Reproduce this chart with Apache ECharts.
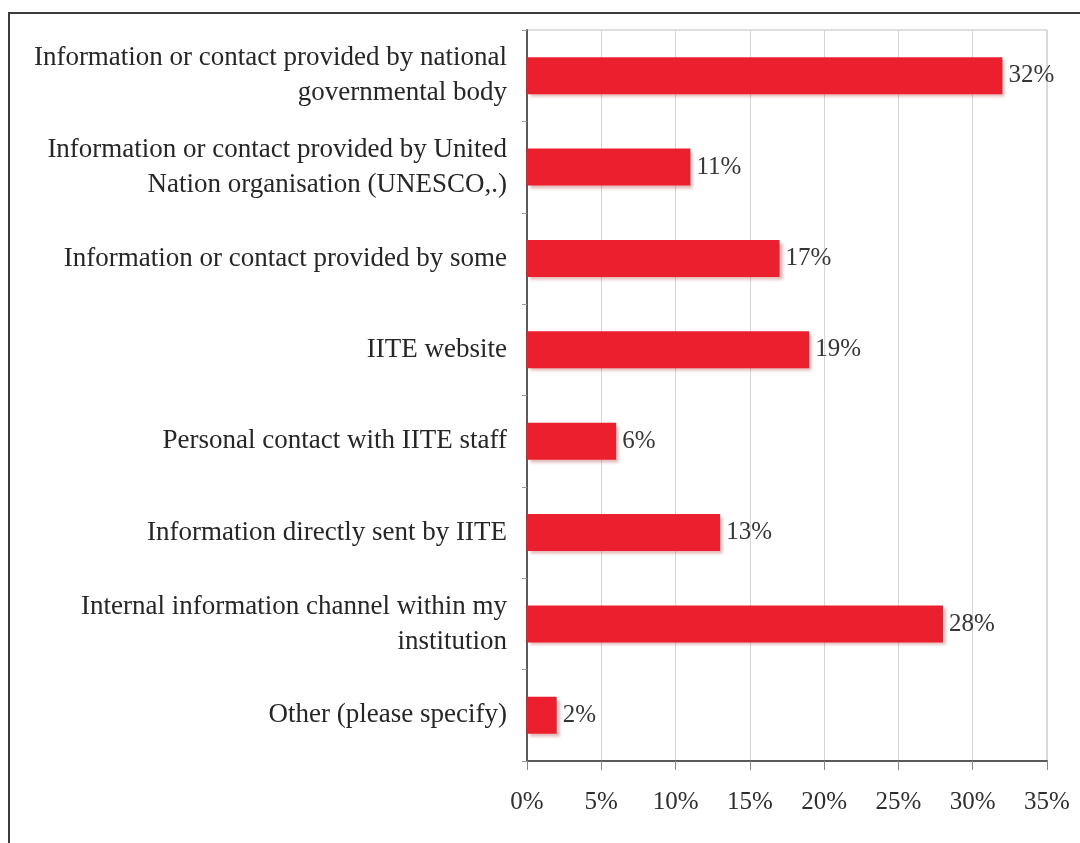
<!DOCTYPE html>
<html>
<head>
<meta charset="utf-8">
<script src="https://cdn.jsdelivr.net/npm/echarts@6/dist/echarts.min.js"></script>
<style>
  html, body { margin: 0; padding: 0; background: #fff; }
  #chart { width: 1080px; height: 843px; }
  #frame { position: absolute; left: 8px; top: 12px; width: 1100px; height: 900px;
           border-left: 2px solid #3c3c3c; border-top: 2px solid #3c3c3c; pointer-events: none; }
</style>
</head>
<body>
<div id="chart"></div>
<div id="frame"></div>
<script>
const categories = [
  "Information or contact provided by national\ngovernmental body",
  "Information or contact provided by United\nNation organisation (UNESCO,.)",
  "Information or contact provided by some",
  "IITE website",
  "Personal contact with IITE staff",
  "Information directly sent by IITE",
  "Internal information channel within my\ninstitution",
  "Other (please specify)"
];
const values = [32, 11, 17, 19, 6, 13, 28, 2];
const xTicks = [0, 5, 10, 15, 20, 25, 30, 35];

const chart = echarts.init(document.getElementById('chart'));
const fontFamily = '"Liberation Serif", "Times New Roman", serif';
chart.setOption({
  animation: false,
  backgroundColor: '#fff',
  grid: { left: 527, right: 33, top: 30, bottom: 82, show: true, borderColor: '#bdbdbd', borderWidth: 1 },
  xAxis: {
    type: 'value', min: xTicks[0], max: xTicks[xTicks.length - 1], interval: 5,
    axisLine: { show: true, lineStyle: { color: '#5a5a5a', width: 2 } },
    axisTick: { show: true, length: 9, lineStyle: { color: '#888' } },
    splitLine: { show: true, lineStyle: { color: '#d6d6d6', width: 1 } },
    axisLabel: { margin: 29, color: '#2e2e2e', fontFamily, fontSize: 25, formatter: v => v + '%' }
  },
  yAxis: {
    type: 'category', data: categories, inverse: true,
    axisLine: { show: true, lineStyle: { color: '#5a5a5a', width: 2 } },
    axisTick: { show: true, length: 5, lineStyle: { color: '#999' } },
    axisLabel: { margin: 20, color: '#262626', fontFamily, fontSize: 27, lineHeight: 35, align: 'right' }
  },
  series: [{
    type: 'bar', data: values, barWidth: 37,
    itemStyle: { color: '#ec1f2e', shadowColor: 'rgba(160,20,20,0.3)', shadowBlur: 3, shadowOffsetX: 3, shadowOffsetY: 3 },
    label: { show: true, position: 'right', distance: 6, color: '#363636', fontFamily, fontSize: 25, formatter: p => p.value + '%' }
  }]
});
</script>
</body>
</html>
